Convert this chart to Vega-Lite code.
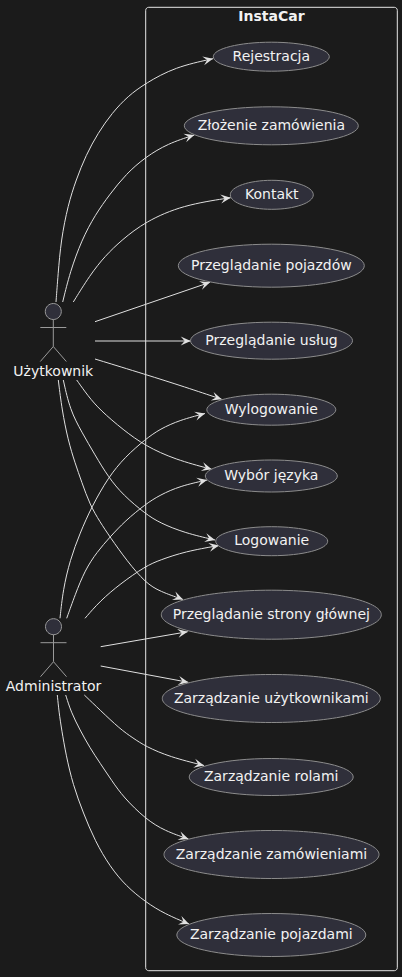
{
  "$schema": "https://vega.github.io/schema/vega-lite/v6.json",
  "width": 402, "height": 977,
  "autosize": {"type": "none"},
  "padding": 0,
  "background": "#1b1b1b",
  "datasets": {
    "frame": [{"x": 145.7, "x2": 397.3, "y": 7.3, "y2": 970.7}],
    "edges": [
      {"e": "U1", "k": 0, "x": 56, "y": 302}, {"e": "U1", "k": 1, "x": 58, "y": 275}, {"e": "U1", "k": 2, "x": 61, "y": 240},
      {"e": "U1", "k": 3, "x": 68, "y": 205}, {"e": "U1", "k": 4, "x": 76, "y": 180}, {"e": "U1", "k": 5, "x": 86, "y": 155},
      {"e": "U1", "k": 6, "x": 98, "y": 133}, {"e": "U1", "k": 7, "x": 112, "y": 113}, {"e": "U1", "k": 8, "x": 128, "y": 96},
      {"e": "U1", "k": 9, "x": 145.5, "y": 83.3}, {"e": "U1", "k": 10, "x": 175, "y": 67}, {"e": "U1", "k": 11, "x": 213, "y": 58.7},
      {"e": "U2", "k": 0, "x": 62.7, "y": 302}, {"e": "U2", "k": 1, "x": 70, "y": 272}, {"e": "U2", "k": 2, "x": 81.7, "y": 240},
      {"e": "U2", "k": 3, "x": 95, "y": 215}, {"e": "U2", "k": 4, "x": 110, "y": 194}, {"e": "U2", "k": 5, "x": 126, "y": 174},
      {"e": "U2", "k": 6, "x": 145.5, "y": 157}, {"e": "U2", "k": 7, "x": 168, "y": 143.5}, {"e": "U2", "k": 8, "x": 194.3, "y": 135},
      {"e": "U3", "k": 0, "x": 73.3, "y": 302}, {"e": "U3", "k": 1, "x": 90, "y": 275}, {"e": "U3", "k": 2, "x": 105, "y": 256},
      {"e": "U3", "k": 3, "x": 121.7, "y": 240}, {"e": "U3", "k": 4, "x": 145.5, "y": 221.5}, {"e": "U3", "k": 5, "x": 183, "y": 205},
      {"e": "U3", "k": 6, "x": 230.7, "y": 197.7},
      {"e": "U4", "k": 0, "x": 95, "y": 321.7}, {"e": "U4", "k": 1, "x": 210, "y": 282.3},
      {"e": "U5", "k": 0, "x": 95, "y": 341}, {"e": "U5", "k": 1, "x": 190.7, "y": 341},
      {"e": "U6", "k": 0, "x": 95, "y": 359}, {"e": "U6", "k": 1, "x": 145.7, "y": 374.5}, {"e": "U6", "k": 2, "x": 185, "y": 387},
      {"e": "U6", "k": 3, "x": 221.7, "y": 399.3},
      {"e": "U7", "k": 0, "x": 76.7, "y": 380}, {"e": "U7", "k": 1, "x": 88, "y": 396}, {"e": "U7", "k": 2, "x": 100, "y": 410},
      {"e": "U7", "k": 3, "x": 123.3, "y": 430}, {"e": "U7", "k": 4, "x": 145.5, "y": 446}, {"e": "U7", "k": 5, "x": 175, "y": 459.5},
      {"e": "U7", "k": 6, "x": 211.7, "y": 469.3},
      {"e": "U8", "k": 0, "x": 63.3, "y": 380}, {"e": "U8", "k": 1, "x": 70, "y": 410}, {"e": "U8", "k": 2, "x": 81.7, "y": 432},
      {"e": "U8", "k": 3, "x": 95, "y": 455}, {"e": "U8", "k": 4, "x": 108.3, "y": 477}, {"e": "U8", "k": 5, "x": 123, "y": 495},
      {"e": "U8", "k": 6, "x": 145.7, "y": 514}, {"e": "U8", "k": 7, "x": 160, "y": 523}, {"e": "U8", "k": 8, "x": 185, "y": 533},
      {"e": "U8", "k": 9, "x": 215, "y": 540},
      {"e": "U9", "k": 0, "x": 58.3, "y": 380}, {"e": "U9", "k": 1, "x": 62, "y": 410}, {"e": "U9", "k": 2, "x": 68, "y": 440},
      {"e": "U9", "k": 3, "x": 75, "y": 463}, {"e": "U9", "k": 4, "x": 81.7, "y": 482}, {"e": "U9", "k": 5, "x": 90, "y": 505},
      {"e": "U9", "k": 6, "x": 100, "y": 522}, {"e": "U9", "k": 7, "x": 110, "y": 537}, {"e": "U9", "k": 8, "x": 127, "y": 561},
      {"e": "U9", "k": 9, "x": 145.7, "y": 583}, {"e": "U9", "k": 10, "x": 160, "y": 591.5}, {"e": "U9", "k": 11, "x": 183, "y": 599.5},
      {"e": "A1", "k": 0, "x": 60, "y": 618.3}, {"e": "A1", "k": 1, "x": 63, "y": 590}, {"e": "A1", "k": 2, "x": 70, "y": 560},
      {"e": "A1", "k": 3, "x": 80, "y": 533}, {"e": "A1", "k": 4, "x": 91.7, "y": 506.7}, {"e": "A1", "k": 5, "x": 108.3, "y": 477.3},
      {"e": "A1", "k": 6, "x": 125, "y": 457}, {"e": "A1", "k": 7, "x": 145.7, "y": 439}, {"e": "A1", "k": 8, "x": 160, "y": 429},
      {"e": "A1", "k": 9, "x": 180, "y": 420}, {"e": "A1", "k": 10, "x": 205, "y": 413.5},
      {"e": "A2", "k": 0, "x": 66.7, "y": 618.3}, {"e": "A2", "k": 1, "x": 75, "y": 595}, {"e": "A2", "k": 2, "x": 85, "y": 570},
      {"e": "A2", "k": 3, "x": 97, "y": 552}, {"e": "A2", "k": 4, "x": 110, "y": 537}, {"e": "A2", "k": 5, "x": 125, "y": 521},
      {"e": "A2", "k": 6, "x": 145.7, "y": 504}, {"e": "A2", "k": 7, "x": 160, "y": 495}, {"e": "A2", "k": 8, "x": 180, "y": 486},
      {"e": "A2", "k": 9, "x": 207, "y": 480},
      {"e": "A3", "k": 0, "x": 85, "y": 618.3}, {"e": "A3", "k": 1, "x": 100, "y": 601}, {"e": "A3", "k": 2, "x": 120, "y": 584},
      {"e": "A3", "k": 3, "x": 145.7, "y": 566}, {"e": "A3", "k": 4, "x": 160, "y": 560}, {"e": "A3", "k": 5, "x": 185, "y": 551.5},
      {"e": "A3", "k": 6, "x": 219, "y": 545.5},
      {"e": "A4", "k": 0, "x": 100.7, "y": 646.7}, {"e": "A4", "k": 1, "x": 187.7, "y": 631.7},
      {"e": "A5", "k": 0, "x": 100.7, "y": 666}, {"e": "A5", "k": 1, "x": 188.3, "y": 682.3},
      {"e": "A6", "k": 0, "x": 84.3, "y": 695}, {"e": "A6", "k": 1, "x": 100, "y": 710}, {"e": "A6", "k": 2, "x": 120, "y": 729},
      {"e": "A6", "k": 3, "x": 133, "y": 738}, {"e": "A6", "k": 4, "x": 145.7, "y": 746.5}, {"e": "A6", "k": 5, "x": 170, "y": 757},
      {"e": "A6", "k": 6, "x": 204, "y": 765.5},
      {"e": "A7", "k": 0, "x": 65.7, "y": 695}, {"e": "A7", "k": 1, "x": 71, "y": 712}, {"e": "A7", "k": 2, "x": 80, "y": 730},
      {"e": "A7", "k": 3, "x": 90, "y": 748}, {"e": "A7", "k": 4, "x": 100, "y": 763}, {"e": "A7", "k": 5, "x": 112, "y": 781},
      {"e": "A7", "k": 6, "x": 123.3, "y": 797}, {"e": "A7", "k": 7, "x": 145.5, "y": 819}, {"e": "A7", "k": 8, "x": 165, "y": 831},
      {"e": "A7", "k": 9, "x": 188.5, "y": 839},
      {"e": "A8", "k": 0, "x": 57.3, "y": 695}, {"e": "A8", "k": 1, "x": 59, "y": 712}, {"e": "A8", "k": 2, "x": 61.7, "y": 730},
      {"e": "A8", "k": 3, "x": 66, "y": 755}, {"e": "A8", "k": 4, "x": 73, "y": 785}, {"e": "A8", "k": 5, "x": 83.3, "y": 813},
      {"e": "A8", "k": 6, "x": 95, "y": 841}, {"e": "A8", "k": 7, "x": 110, "y": 866.7}, {"e": "A8", "k": 8, "x": 126, "y": 886},
      {"e": "A8", "k": 9, "x": 145.5, "y": 902}, {"e": "A8", "k": 10, "x": 165, "y": 914}, {"e": "A8", "k": 11, "x": 189, "y": 924}
    ],
    "heads": [
      {"e": "U1", "x": 213, "y": 58.7, "dir": -12},
      {"e": "U2", "x": 194.3, "y": 135, "dir": -18},
      {"e": "U3", "x": 230.7, "y": 197.7, "dir": -7},
      {"e": "U4", "x": 210, "y": 282.3, "dir": -19},
      {"e": "U5", "x": 190.7, "y": 341, "dir": 0},
      {"e": "U6", "x": 221.7, "y": 399.3, "dir": 18},
      {"e": "U7", "x": 211.7, "y": 469.3, "dir": 15},
      {"e": "U8", "x": 215, "y": 540, "dir": 14},
      {"e": "U9", "x": 183, "y": 599.5, "dir": 22},
      {"e": "A1", "x": 205, "y": 413.5, "dir": -15},
      {"e": "A2", "x": 207, "y": 480, "dir": -13},
      {"e": "A3", "x": 219, "y": 545.5, "dir": -11},
      {"e": "A4", "x": 187.7, "y": 631.7, "dir": -10},
      {"e": "A5", "x": 188.3, "y": 682.3, "dir": 10.5},
      {"e": "A6", "x": 204, "y": 765.5, "dir": 13},
      {"e": "A7", "x": 188.5, "y": 839, "dir": 19},
      {"e": "A8", "x": 189, "y": 924, "dir": 22}
    ],
    "cases": [
      {"name": "Rejestracja", "x": 271.3, "y": 56.7},
      {"name": "Złożenie zamówienia", "x": 271.3, "y": 125.8},
      {"name": "Kontakt", "x": 271.8, "y": 194.8},
      {"name": "Przeglądanie pojazdów", "x": 271.3, "y": 265.7},
      {"name": "Przeglądanie usług", "x": 271.5, "y": 340.7},
      {"name": "Wylogowanie", "x": 271.3, "y": 409.7},
      {"name": "Wybór języka", "x": 271.3, "y": 476},
      {"name": "Logowanie", "x": 271.7, "y": 541.2},
      {"name": "Przeglądanie strony głównej", "x": 271.3, "y": 614.7},
      {"name": "Zarządzanie użytkownikami", "x": 271.3, "y": 698.5},
      {"name": "Zarządzanie rolami", "x": 271.2, "y": 777},
      {"name": "Zarządzanie zamówieniami", "x": 271.5, "y": 854.5},
      {"name": "Zarządzanie pojazdami", "x": 271.3, "y": 935}
    ],
    "actors": [
      {"name": "Użytkownik", "x": 53.3, "y": 311.5},
      {"name": "Administrator", "x": 53.5, "y": 626.7}
    ],
    "system": [{"name": "InstaCar", "x": 271.5, "y": 17.3}]
  },
  "encoding": {
    "x": {"field": "x", "type": "quantitative", "scale": {"domain": [0, 402], "nice": false, "zero": false}, "axis": null},
    "y": {"field": "y", "type": "quantitative", "scale": {"domain": [0, 977], "nice": false, "zero": false, "reverse": true}, "axis": null}
  },
  "layer": [
    {
      "data": {"name": "frame"},
      "mark": {"type": "rect", "fill": null, "stroke": "#e6e6e6", "strokeWidth": 1, "cornerRadius": 3},
      "encoding": {
        "x2": {"field": "x2"},
        "y2": {"field": "y2"}
      }
    },
    {
      "data": {"name": "edges"},
      "mark": {"type": "line", "interpolate": "basis", "color": "#e0e0e0", "strokeWidth": 1},
      "encoding": {
        "detail": {"field": "e"},
        "order": {"field": "k", "type": "quantitative"}
      }
    },
    {
      "data": {"name": "heads"},
      "mark": {"type": "point", "shape": "M0,0L-10,-4.5L-6,0L-10,4.5Z", "size": 4, "filled": true, "color": "#e0e0e0", "opacity": 1},
      "encoding": {
        "angle": {"field": "dir", "type": "quantitative", "scale": null}
      }
    },
    {
      "data": {"name": "cases"},
      "mark": {"type": "point", "size": 4, "filled": true, "fill": "#2f2f3a", "stroke": "#8c8c8c", "strokeWidth": 1, "opacity": 1},
      "encoding": {
        "shape": {
          "field": "name", "type": "nominal", "legend": null,
          "scale": {
            "domain": ["Rejestracja", "Złożenie zamówienia", "Kontakt", "Przeglądanie pojazdów", "Przeglądanie usług", "Wylogowanie", "Wybór języka", "Logowanie", "Przeglądanie strony głównej", "Zarządzanie użytkownikami", "Zarządzanie rolami", "Zarządzanie zamówieniami", "Zarządzanie pojazdami"],
            "range": [
              "M-58,0A58,14.5 0 1,1 58,0A58,14.5 0 1,1 -58,0Z",
              "M-87,0A87,19 0 1,1 87,0A87,19 0 1,1 -87,0Z",
              "M-41.5,0A41.5,14.5 0 1,1 41.5,0A41.5,14.5 0 1,1 -41.5,0Z",
              "M-93,0A93,21.5 0 1,1 93,0A93,21.5 0 1,1 -93,0Z",
              "M-81,0A81,18.5 0 1,1 81,0A81,18.5 0 1,1 -81,0Z",
              "M-64.5,0A64.5,15.5 0 1,1 64.5,0A64.5,15.5 0 1,1 -64.5,0Z",
              "M-66,0A66,16 0 1,1 66,0A66,16 0 1,1 -66,0Z",
              "M-56,0A56,14.5 0 1,1 56,0A56,14.5 0 1,1 -56,0Z",
              "M-110,0A110,24.5 0 1,1 110,0A110,24.5 0 1,1 -110,0Z",
              "M-109,0A109,24 0 1,1 109,0A109,24 0 1,1 -109,0Z",
              "M-82,0A82,18.5 0 1,1 82,0A82,18.5 0 1,1 -82,0Z",
              "M-107.5,0A107.5,24 0 1,1 107.5,0A107.5,24 0 1,1 -107.5,0Z",
              "M-94.5,0A94.5,21.5 0 1,1 94.5,0A94.5,21.5 0 1,1 -94.5,0Z"
            ]
          }
        }
      }
    },
    {
      "data": {"name": "cases"},
      "mark": {"type": "text", "font": "DejaVu Sans", "fontSize": 14, "color": "#f2f2f2", "align": "center", "baseline": "middle"},
      "encoding": {"text": {"field": "name"}}
    },
    {
      "data": {"name": "actors"},
      "mark": {"type": "point", "shape": "M-8,0A8,8 0 1,1 8,0A8,8 0 1,1 -8,0ZM0,8L0,35M-13,16L13,16M0,35L-13,50M0,35L13,50", "size": 4, "filled": true, "fill": "#2f2f3a", "stroke": "#9a9a9a", "strokeWidth": 1, "opacity": 1}
    },
    {
      "data": {"name": "actors"},
      "mark": {"type": "text", "font": "DejaVu Sans", "fontSize": 14, "color": "#f2f2f2", "align": "center", "baseline": "middle", "dy": 60},
      "encoding": {"text": {"field": "name"}}
    },
    {
      "data": {"name": "system"},
      "mark": {"type": "text", "font": "DejaVu Sans", "fontSize": 14, "fontWeight": "bold", "color": "#f2f2f2", "align": "center", "baseline": "middle"},
      "encoding": {"text": {"field": "name"}}
    }
  ],
  "config": {
    "view": {"stroke": null},
    "style": {"cell": {"stroke": "transparent"}}
  }
}
